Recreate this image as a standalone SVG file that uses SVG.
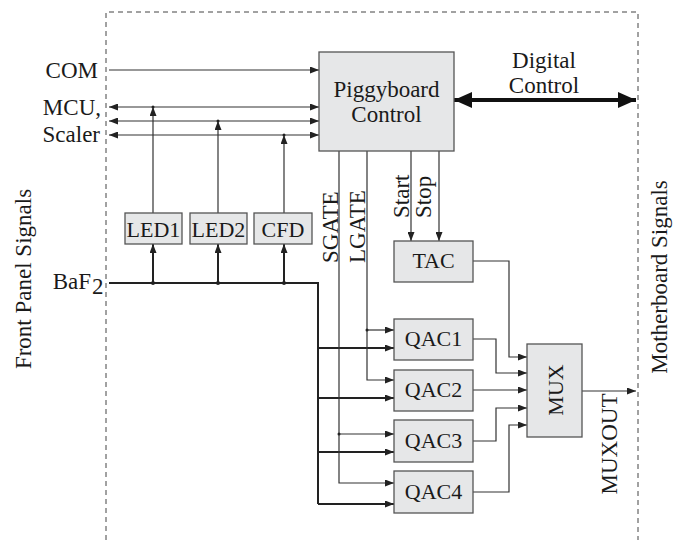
<svg xmlns="http://www.w3.org/2000/svg" width="673" height="540" viewBox="0 0 673 540">
<style>
text{font-family:"Liberation Serif","Times New Roman",serif;fill:#1a1a1a;font-size:23px}
.bl{font-size:22px;text-anchor:middle}
.box{fill:#e6e7e8;stroke:#555;stroke-width:1.3}
.ln{fill:none;stroke:#333;stroke-width:1.2}
.th{fill:none;stroke:#222;stroke-width:2}
.dot{fill:#222}
</style>
<defs>
<marker id="a" viewBox="0 0 9 7" refX="9" refY="3.5" markerWidth="9" markerHeight="7" markerUnits="userSpaceOnUse" orient="auto-start-reverse"><path d="M0,0 L9,3.5 L0,7 z" fill="#222"/></marker>
<marker id="b" viewBox="0 0 18 16" refX="18" refY="8" markerWidth="18" markerHeight="16" markerUnits="userSpaceOnUse" orient="auto-start-reverse"><path d="M0,0 L18,8 L0,16 z" fill="#111"/></marker>
</defs>
<path d="M106,540 V12 H638 V540" fill="none" stroke="#444" stroke-width="1" stroke-dasharray="5,4"/>
<text transform="translate(31,279) rotate(-90)" text-anchor="middle">Front Panel Signals</text>
<text transform="translate(667,277) rotate(-90)" text-anchor="middle" font-size="23.5">Motherboard Signals</text>
<text x="98" y="78" text-anchor="end">COM</text>
<text x="101" y="115" text-anchor="end">MCU,</text>
<text x="100" y="142" text-anchor="end">Scaler</text>
<text x="91" y="289" text-anchor="end">BaF</text><text x="92" y="294" font-size="14">2</text>
<g id="connectors">
<path class="ln" d="M109,70 H319" marker-end="url(#a)"/>
<path class="ln" d="M109,107 H319" marker-start="url(#a)" marker-end="url(#a)"/>
<path class="ln" d="M109,121 H319" marker-start="url(#a)" marker-end="url(#a)"/>
<path class="ln" d="M109,135 H319" marker-start="url(#a)" marker-end="url(#a)"/>
<path class="ln" d="M153,213 V107" marker-end="url(#a)"/>
<path class="ln" d="M218,213 V121" marker-end="url(#a)"/>
<path class="ln" d="M284,213 V135" marker-end="url(#a)"/>
<circle class="dot" cx="153" cy="107" r="1.5"/><circle class="dot" cx="218" cy="121" r="1.5"/><circle class="dot" cx="284" cy="135" r="1.5"/>
<path class="th" d="M109,283 H318 V504"/>
<path class="th" d="M153,283 V244" marker-end="url(#a)"/>
<path class="th" d="M218,283 V244" marker-end="url(#a)"/>
<path class="th" d="M284,283 V244" marker-end="url(#a)"/>
<circle class="dot" cx="153" cy="283" r="2"/><circle class="dot" cx="218" cy="283" r="2"/><circle class="dot" cx="284" cy="283" r="2"/>
<path class="th" d="M318,348 H394" marker-end="url(#a)"/>
<path class="th" d="M318,398 H394" marker-end="url(#a)"/>
<path class="th" d="M318,452 H394" marker-end="url(#a)"/>
<path class="th" d="M318,504 H394" marker-end="url(#a)"/>
<path class="ln" d="M339,151 V483 H394" marker-end="url(#a)"/>
<path class="ln" d="M339,434 H394" marker-end="url(#a)"/>
<path class="ln" d="M367,151 V380 H394" marker-end="url(#a)"/>
<path class="ln" d="M367,330 H394" marker-end="url(#a)"/>
<circle class="dot" cx="339" cy="434" r="1.5"/><circle class="dot" cx="367" cy="330" r="1.5"/>
<path class="ln" d="M411,151 V241" marker-end="url(#a)"/>
<path class="ln" d="M439,151 V241" marker-end="url(#a)"/>
<path class="ln" d="M473,261 H509 V357 H527" marker-end="url(#a)"/>
<path class="ln" d="M473,339 H496 V373 H527" marker-end="url(#a)"/>
<path class="ln" d="M473,390 H527" marker-end="url(#a)"/>
<path class="ln" d="M473,441 H496 V408 H527" marker-end="url(#a)"/>
<path class="ln" d="M473,492 H509 V425 H527" marker-end="url(#a)"/>
<path class="ln" d="M582,391 H636" marker-end="url(#a)"/>
<path d="M454,100 H636" fill="none" stroke="#111" stroke-width="4" marker-start="url(#b)" marker-end="url(#b)"/>
</g>
<text transform="translate(338,263) rotate(-90)" font-size="22">SGATE</text>
<text transform="translate(365,263) rotate(-90)" font-size="22">LGATE</text>
<text transform="translate(409,218) rotate(-90)">Start</text>
<text transform="translate(431,218) rotate(-90)">Stop</text>
<text transform="translate(617,444) rotate(-90)" text-anchor="middle">MUXOUT</text>
<text x="544" y="68" text-anchor="middle">Digital</text>
<text x="544" y="93" text-anchor="middle">Control</text>
<g id="piggyboard"><rect class="box" x="319" y="52" width="135" height="99"/><text x="386.5" y="97" text-anchor="middle">Piggyboard</text><text x="386.5" y="122" text-anchor="middle">Control</text></g>
<g id="led1"><rect class="box" x="125" y="213" width="57" height="31"/><text class="bl" x="153.5" y="237">LED1</text></g>
<g id="led2"><rect class="box" x="190" y="213" width="57" height="31"/><text class="bl" x="218.5" y="237">LED2</text></g>
<g id="cfd"><rect class="box" x="254" y="213" width="58" height="31"/><text class="bl" x="283" y="237">CFD</text></g>
<g id="tac"><rect class="box" x="394" y="241" width="79" height="41"/><text class="bl" x="433.5" y="268">TAC</text></g>
<g id="qac1"><rect class="box" x="394" y="319" width="79" height="41"/><text class="bl" x="433.5" y="346">QAC1</text></g>
<g id="qac2"><rect class="box" x="394" y="370" width="79" height="41"/><text class="bl" x="433.5" y="397">QAC2</text></g>
<g id="qac3"><rect class="box" x="394" y="420" width="79" height="42"/><text class="bl" x="433.5" y="448">QAC3</text></g>
<g id="qac4"><rect class="box" x="394" y="471" width="79" height="42"/><text class="bl" x="433.5" y="499">QAC4</text></g>
<g id="mux"><rect class="box" x="527" y="344" width="55" height="93"/><text class="bl" transform="translate(563,390) rotate(-90)" x="0" y="0">MUX</text></g>
</svg>
